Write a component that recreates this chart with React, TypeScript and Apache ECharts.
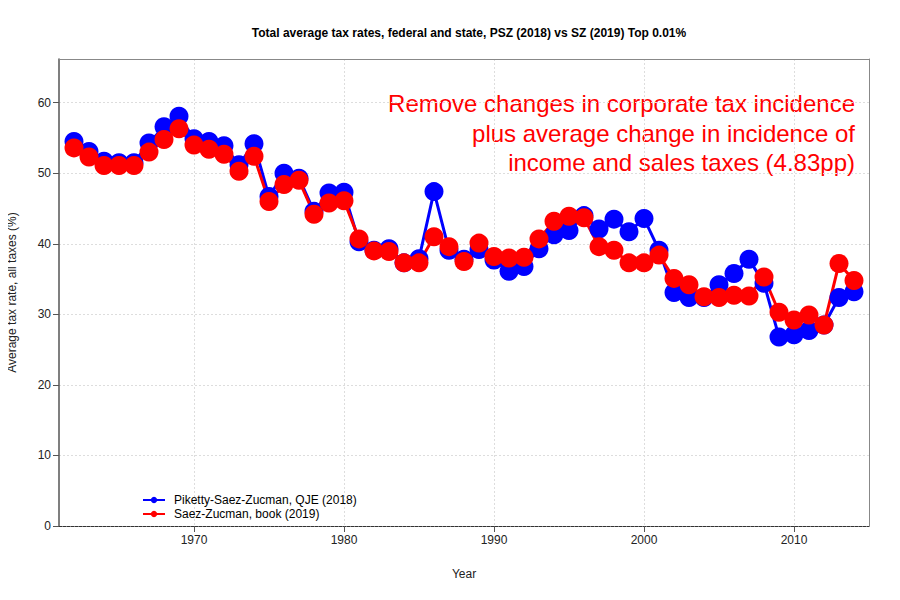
import React, { useEffect, useRef } from "react";
import * as echarts from "echarts";

const years: number[] = [];
for (let y = 1962; y <= 2014; y++) years.push(y);

const psz: number[] = [
  54.5, 53.1, 51.7, 51.5, 51.5, 54.3, 56.6, 58.1, 54.9, 54.5,
  53.9, 51.2, 54.2, 46.7, 50.0, 49.3, 44.6, 47.2, 47.3, 40.3,
  39.1, 39.3, 37.3, 37.9, 47.4, 39.1, 37.8, 39.2, 37.7, 36.1,
  36.8, 39.3, 41.3, 41.9, 44.0, 42.1, 43.5, 41.7, 43.6, 39.1,
  33.1, 32.4, 32.4, 34.2, 35.8, 37.8, 34.4, 26.8, 27.1, 27.7,
  28.5, 32.4, 33.2,
];

const sz: number[] = [
  53.6, 52.3, 51.1, 51.1, 51.1, 53.0, 54.8, 56.3, 54.0, 53.4,
  52.7, 50.3, 52.4, 46.0, 48.4, 49.0, 44.2, 45.8, 46.1, 40.7,
  39.0, 38.9, 37.3, 37.3, 41.0, 39.6, 37.5, 40.1, 38.2, 38.0,
  38.1, 40.7, 43.2, 43.9, 43.7, 39.6, 39.1, 37.3, 37.3, 38.4,
  35.1, 34.2, 32.5, 32.4, 32.7, 32.6, 35.3, 30.3, 29.2, 29.9,
  28.5, 37.2, 34.8,
];

const xTicks = [1970, 1980, 1990, 2000, 2010];
const yTicks = [0, 10, 20, 30, 40, 50, 60];

const seriesNames = ["Piketty-Saez-Zucman, QJE (2018)", "Saez-Zucman, book (2019)"];
const titleText = "Total average tax rates, federal and state, PSZ (2018) vs SZ (2019) Top 0.01%";
const noteText =
  "Remove changes in corporate tax incidence\nplus average change in incidence of\nincome and sales taxes (4.83pp)";

const FONT = "Liberation Sans, Arial, Helvetica, sans-serif";

export default function App() {
  const ref = useRef<HTMLDivElement>(null);
  useEffect(() => {
    if (!ref.current) return;
    const chart = echarts.init(ref.current, null, { renderer: "svg" });
    const mk = (name: string, vals: number[], color: string) => ({
      name,
      type: "line",
      data: years.map((y, i) => [y, vals[i]]),
      symbol: "circle",
      symbolSize: 19,
      showSymbol: true,
      lineStyle: { color, width: 3 },
      itemStyle: { color },
      emphasis: { disabled: true },
    });
    chart.setOption({
      animation: false,
      textStyle: { fontFamily: FONT },
      title: {
        text: titleText,
        left: 464,
        top: 22,
        textAlign: "center",
        textStyle: { fontSize: 12, fontWeight: "bold", color: "#000", fontFamily: FONT },
      },
      legend: {
        orient: "vertical",
        left: 137,
        top: 489,
        itemWidth: 22,
        itemHeight: 8,
        itemGap: 2,
        data: seriesNames,
        textStyle: { fontSize: 12, color: "#000", fontFamily: FONT, padding: [0, 0, 0, 4] },
        selectedMode: false,
      },
      grid: { left: 59, right: 31, top: 59, bottom: 74, outerBoundsMode: "none", containLabel: false },
      xAxis: [
        {
          type: "value",
          min: 1961,
          max: 2015,
          name: "Year",
          nameLocation: "middle",
          nameGap: 42,
          nameTextStyle: { fontSize: 12, color: "#222", fontFamily: FONT },
          axisLine: { show: true, lineStyle: { color: "#333", type: [3, 1], width: 1 } },
          axisTick: { show: true, length: 6, lineStyle: { color: "#555" }, customValues: xTicks },
          axisLabel: {
            fontSize: 12,
            color: "#222",
            margin: 8,
            customValues: xTicks,
            fontFamily: FONT,
            formatter: (v: number) => String(v),
          },
          splitLine: { show: true, lineStyle: { color: "#ddd", type: [2, 2], width: 1 } },
        },
        {
          type: "value",
          position: "top",
          min: 1961,
          max: 2015,
          axisLine: { show: true, onZero: false, lineStyle: { color: "#888", width: 1 } },
          axisTick: { show: false },
          axisLabel: { show: false },
          splitLine: { show: false },
        },
      ],
      yAxis: [
        {
          type: "value",
          min: 0,
          max: 66.2,
          name: "Average tax rate, all taxes (%)",
          nameLocation: "middle",
          nameGap: 41,
          nameTextStyle: { fontSize: 12, color: "#222", fontFamily: FONT },
          axisLine: { show: true, lineStyle: { color: "#555", width: 1.5 } },
          axisTick: { show: true, length: 6, lineStyle: { color: "#555" }, customValues: yTicks },
          axisLabel: {
            fontSize: 12,
            color: "#222",
            margin: 8,
            customValues: yTicks,
            fontFamily: FONT,
            formatter: (v: number) => String(v),
          },
          splitLine: { show: true, lineStyle: { color: "#ddd", type: [2, 2], width: 1 } },
        },
        {
          type: "value",
          position: "right",
          min: 0,
          max: 66.2,
          axisLine: { show: true, onZero: false, lineStyle: { color: "#888", width: 1 } },
          axisTick: { show: false },
          axisLabel: { show: false },
          splitLine: { show: false },
        },
      ],
      graphic: [
        {
          type: "text",
          x: 855,
          y: 89,
          style: {
            text: noteText,
            fill: "#ff0000",
            fontSize: 24,
            lineHeight: 29.5,
            align: "right",
            verticalAlign: "top",
            fontFamily: FONT,
          },
        },
      ],
      series: [mk(seriesNames[0], psz, "#0000ff"), mk(seriesNames[1], sz, "#ff0000")],
    });
    return () => chart.dispose();
  }, []);
  return <div ref={ref} style={{ width: 900, height: 600, margin: -8 }} />;
}
